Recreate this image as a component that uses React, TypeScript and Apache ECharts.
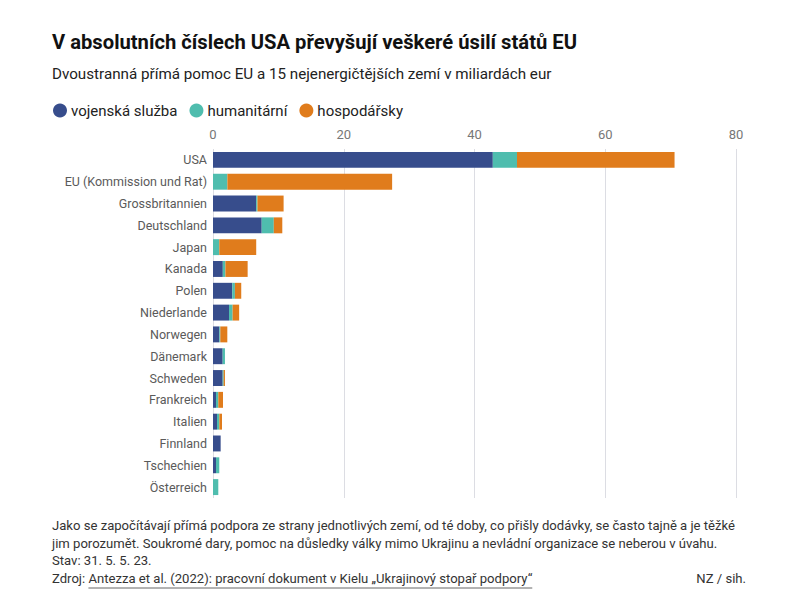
import React, { useEffect, useRef } from "react";
import * as echarts from "echarts";

const categories = [
  "USA",
  "EU (Kommission und Rat)",
  "Grossbritannien",
  "Deutschland",
  "Japan",
  "Kanada",
  "Polen",
  "Niederlande",
  "Norwegen",
  "Dänemark",
  "Schweden",
  "Frankreich",
  "Italien",
  "Finnland",
  "Tschechien",
  "Österreich",
];
const military = [42.8, 0, 6.6, 7.45, 0, 1.5, 2.95, 2.45, 0.97, 1.48, 1.48, 0.46, 0.61, 1.17, 0.46, 0];
const humanitarian = [3.7, 2.2, 0.2, 1.85, 0.96, 0.4, 0.4, 0.55, 0.15, 0.35, 0.15, 0.35, 0.36, 0, 0.5, 0.81];
const economic = [24.1, 25.2, 4.0, 1.3, 5.65, 3.4, 0.97, 1.0, 1.07, 0, 0.2, 0.72, 0.41, 0, 0, 0];
const seriesNames = ["vojenská služba", "humanitární", "hospodářsky"];
const colors = ["#374d8c", "#4fbdae", "#e07c1c"];
const xTicks = { min: 0, max: 80, interval: 20 };

const FONT = "Roboto, 'Liberation Sans', sans-serif";
const titleText = "V absolutních číslech USA převyšují veškeré úsilí států EU";
const subtitleText = "Dvoustranná přímá pomoc EU a 15 nejenergičtějších zemí v miliardách eur";
const noteLines = [
  "Jako se započítávají přímá podpora ze strany jednotlivých zemí, od té doby, co přišly dodávky, se často tajně a je těžké",
  "jim porozumět. Soukromé dary, pomoc na důsledky války mimo Ukrajinu a nevládní organizace se neberou v úvahu.",
  "Stav: 31. 5. 5. 23.",
];
const sourceLabel = "Zdroj: ";
const sourceLink = "Antezza et al. (2022): pracovní dokument v Kielu „Ukrajinový stopař podpory“";
const credit = "NZ / sih.";

function measure(text: string, font: string): number {
  const c = document.createElement("canvas");
  const ctx = c.getContext("2d");
  if (!ctx) return text.length * 6;
  ctx.font = font;
  return ctx.measureText(text).width;
}

export default function App() {
  const ref = useRef<HTMLDivElement>(null);
  useEffect(() => {
    if (!ref.current) return;
    const chart = echarts.init(ref.current, null, { renderer: "svg" });
    const footSize = 13.1;
    const labelW = measure(sourceLabel, `${footSize}px Roboto`);
    const linkW = measure(sourceLink, `${footSize}px Roboto`);
    const footY = [527, 545, 562];
    chart.setOption({
      animation: false,
      backgroundColor: "#ffffff",
      textStyle: { fontFamily: FONT },
      legend: {
        left: 48,
        top: 98,
        icon: "circle",
        itemWidth: 14,
        itemHeight: 14,
        itemGap: 12,
        data: seriesNames,
        textStyle: { fontSize: 15, color: "#222", fontFamily: FONT, padding: [0, 0, 0, -1] },
      },
      grid: { left: 213, right: 64, top: 149, bottom: 101 },
      xAxis: {
        type: "value",
        position: "top",
        min: xTicks.min,
        max: xTicks.max,
        interval: xTicks.interval,
        axisLine: { show: false },
        axisTick: { show: false },
        axisLabel: { fontSize: 13, color: "#777", margin: 8, fontFamily: FONT },
        splitLine: { lineStyle: { color: "#dcdde3", width: 1 } },
      },
      yAxis: {
        type: "category",
        inverse: true,
        data: categories,
        axisLine: { show: false },
        axisTick: { show: false },
        axisLabel: { fontSize: 12.5, color: "#5a5a5a", margin: 6, fontFamily: FONT },
      },
      series: [military, humanitarian, economic].map((d, i) => ({
        type: "bar",
        name: seriesNames[i],
        stack: "total",
        data: d,
        barCategoryGap: "27%",
        itemStyle: { color: colors[i] },
      })),
      color: colors,
      graphic: [
        {
          type: "text",
          left: 52,
          top: 32,
          style: { text: titleText, font: `bold 20.2px ${FONT}`, fill: "#111" },
        },
        {
          type: "text",
          left: 52,
          top: 66,
          style: { text: subtitleText, font: `15.2px ${FONT}`, fill: "#222" },
        },
        ...noteLines.map((t, i) => ({
          type: "text",
          left: 52,
          top: footY[i] - 8,
          style: { text: t, font: `${footSize}px ${FONT}`, fill: "#333" },
        })),
        {
          type: "text",
          left: 52,
          top: 572,
          style: { text: sourceLabel, font: `${footSize}px ${FONT}`, fill: "#333" },
        },
        {
          type: "text",
          left: 52 + labelW,
          top: 572,
          style: { text: sourceLink, font: `${footSize}px ${FONT}`, fill: "#333" },
        },
        {
          type: "line",
          shape: { x1: 52 + labelW, y1: 588, x2: 52 + labelW + linkW, y2: 588 },
          style: { stroke: "#666", lineWidth: 1 },
        },
        {
          type: "text",
          right: 54,
          top: 572,
          style: { text: credit, font: `${footSize}px ${FONT}`, fill: "#333" },
        },
      ],
    });
    return () => chart.dispose();
  }, []);
  return <div ref={ref} style={{ width: 800, height: 599, margin: -8 }} />;
}
